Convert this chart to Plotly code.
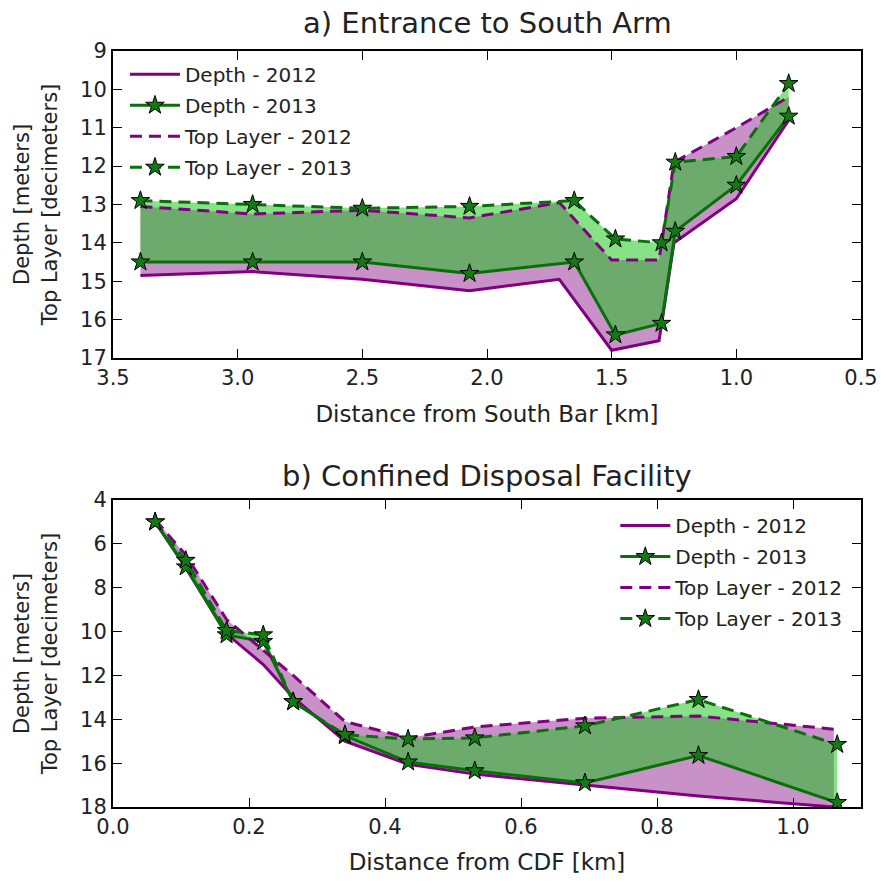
import plotly.graph_objects as go
from plotly.subplots import make_subplots

# ---- Panel a) Entrance to South Arm ----
a_x_2012 = [3.39, 2.94, 2.50, 2.07, 1.71, 1.50, 1.31, 1.25, 1.00, 0.79]
a_depth_2012 = [14.85, 14.75, 14.95, 15.25, 14.95, 16.8, 16.55, 14.0, 12.85, 10.8]
a_top_2012 = [13.05, 13.25, 13.15, 13.35, 12.95, 14.45, 14.45, 11.9, 11.0, 10.2]

a_x_2013 = [3.39, 2.94, 2.50, 2.07, 1.65, 1.485, 1.30, 1.245, 1.00, 0.79]
a_depth_2013 = [14.5, 14.5, 14.5, 14.8, 14.5, 16.4, 16.1, 13.7, 12.5, 10.7]
a_top_2013 = [12.9, 13.0, 13.1, 13.05, 12.9, 13.9, 14.0, 11.9, 11.75, 9.85]

# ---- Panel b) Confined Disposal Facility ----
b_x_2012 = [0.062, 0.107, 0.167, 0.221, 0.265, 0.341, 0.434, 0.532, 0.694, 0.861, 1.06]
b_depth_2012 = [5.0, 7.1, 10.1, 11.5, 13.0, 15.0, 16.05, 16.5, 17.0, 17.5, 18.0]
b_top_2012 = [4.9, 6.5, 9.45, 10.85, 12.0, 14.1, 14.85, 14.35, 13.95, 13.85, 14.45]

b_x_2013 = [0.062, 0.107, 0.167, 0.221, 0.265, 0.341, 0.434, 0.532, 0.694, 0.861, 1.065]
b_depth_2013 = [5.0, 7.05, 10.15, 10.45, 13.2, 14.75, 15.95, 16.35, 16.9, 15.65, 17.8]
b_top_2013 = [5.0, 6.75, 9.95, 10.15, 13.2, 14.7, 14.9, 14.85, 14.3, 13.1, 15.15]

labels = ["Depth - 2012", "Depth - 2013", "Top Layer - 2012", "Top Layer - 2013"]
titles = ["a) Entrance to South Arm", "b) Confined Disposal Facility"]
xtitles = ["Distance from South Bar [km]", "Distance from CDF [km]"]
ytitle = "Depth [meters]<br>Top Layer [decimeters]"

PURPLE = "#800080"
GREEN = "#0a6e0a"
STAR_FILL = "#137a13"
PURPLE_FILL = "rgba(128,0,128,0.43)"
GREEN_FILL = "rgba(20,196,20,0.51)"
FONT = "DejaVu Sans, sans-serif"
TXT = "#222"

fig = make_subplots(rows=2, cols=1, vertical_spacing=0.188)


def add_panel(row, x12, d12, t12, x13, d13, t13, legend):
    fig.add_trace(go.Scatter(x=x12 + x12[::-1], y=d12 + t12[::-1], fill="toself",
                             fillcolor=PURPLE_FILL, line=dict(width=0), mode="lines",
                             showlegend=False, hoverinfo="skip"), row=row, col=1)
    fig.add_trace(go.Scatter(x=x13 + x13[::-1], y=d13 + t13[::-1], fill="toself",
                             fillcolor=GREEN_FILL, line=dict(width=0), mode="lines",
                             showlegend=False, hoverinfo="skip"), row=row, col=1)
    star = dict(symbol="star", size=14, color=STAR_FILL, line=dict(color="black", width=1))
    fig.add_trace(go.Scatter(x=x12, y=d12, mode="lines", name=labels[0],
                             line=dict(color=PURPLE, width=3), legend=legend,
                             legendgroup=legend + "0"), row=row, col=1)
    fig.add_trace(go.Scatter(x=x13, y=d13, mode="lines+markers", name=labels[1],
                             line=dict(color=GREEN, width=3), marker=star, legend=legend,
                             legendgroup=legend + "1"), row=row, col=1)
    fig.add_trace(go.Scatter(x=x12, y=t12, mode="lines", name=labels[2],
                             line=dict(color=PURPLE, width=3, dash="12px,7px"), legend=legend,
                             legendgroup=legend + "2"), row=row, col=1)
    fig.add_trace(go.Scatter(x=x13, y=t13, mode="lines+markers", name=labels[3],
                             line=dict(color=GREEN, width=3, dash="12px,7px"), marker=star,
                             legend=legend, legendgroup=legend + "3"), row=row, col=1)


add_panel(1, a_x_2012, a_depth_2012, a_top_2012, a_x_2013, a_depth_2013, a_top_2013, "legend")
add_panel(2, b_x_2012, b_depth_2012, b_top_2012, b_x_2013, b_depth_2013, b_top_2013, "legend2")

axis_common = dict(showline=True, linecolor="black", linewidth=2, mirror="ticks",
                   ticks="inside", ticklen=9, tickwidth=1, tickcolor="black",
                   showgrid=False, zeroline=False, automargin=False,
                   tickfont=dict(family=FONT, size=21, color=TXT),
                   title_font=dict(family=FONT, size=21, color=TXT))

fig.update_xaxes(axis_common)
fig.update_yaxes(axis_common)

fig.update_xaxes(range=[3.5, 0.5], tickmode="linear", tick0=0.5, dtick=0.5, tickformat=".1f",
                 title_text=xtitles[0], title_standoff=17,
                 title_font=dict(family=FONT, size=23, color=TXT), row=1, col=1)
fig.update_yaxes(range=[17, 9], tickmode="linear", tick0=9, dtick=1,
                 title_text=ytitle, title_standoff=17, row=1, col=1)
fig.update_xaxes(range=[0, 1.1], tickmode="linear", tick0=0, dtick=0.2, tickformat=".1f",
                 title_text=xtitles[1], title_standoff=16,
                 title_font=dict(family=FONT, size=23, color=TXT), row=2, col=1)
fig.update_yaxes(range=[18, 4], tickmode="linear", tick0=4, dtick=2,
                 title_text=ytitle, title_standoff=17, row=2, col=1)

fig.update_layout(
    width=881, height=881,
    margin=dict(l=113, r=20, t=51, b=74, autoexpand=False),
    paper_bgcolor="white", plot_bgcolor="white",
    font=dict(family=FONT, color=TXT),
    showlegend=True,
    legend=dict(x=0.016, y=0.995, xanchor="left", yanchor="top", bgcolor="rgba(0,0,0,0)",
                font=dict(family=FONT, size=20, color=TXT), tracegroupgap=2,
                itemwidth=50),
    legend2=dict(x=0.983, y=0.398, xanchor="right", yanchor="top", bgcolor="rgba(0,0,0,0)",
                 font=dict(family=FONT, size=20, color=TXT), tracegroupgap=2,
                 itemwidth=50),
    annotations=[
        dict(text=titles[0], x=0.5, y=1, xref="paper", yref="paper", xanchor="center",
             yanchor="bottom", yshift=9, showarrow=False,
             font=dict(family=FONT, size=29, color=TXT)),
        dict(text=titles[1], x=0.5, y=0.406, xref="paper", yref="paper", xanchor="center",
             yanchor="bottom", yshift=5, showarrow=False,
             font=dict(family=FONT, size=29, color=TXT)),
    ],
)

fig.write_html("out.html", config={"displayModeBar": False},
               post_script="document.body.style.margin='0';document.body.style.padding='0';")
